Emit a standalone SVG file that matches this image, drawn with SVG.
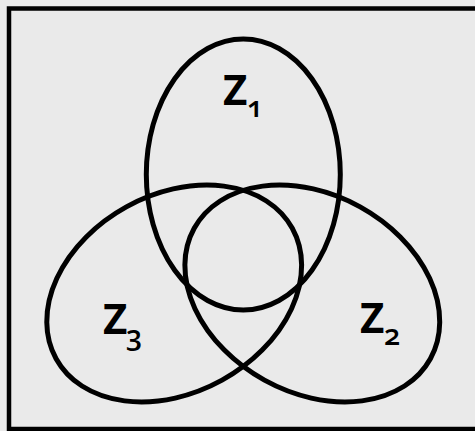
<svg xmlns="http://www.w3.org/2000/svg" width="475" height="431" viewBox="0 0 475 431">
<style>
.set{fill:none;stroke:#000;stroke-width:5}
.lbl{font-family:"Open Sans","Liberation Sans",sans-serif;font-weight:700;fill:#000}
.z{font-size:42px}
.s{font-size:29px;font-weight:600;font-variant-numeric:oldstyle-nums;font-feature-settings:"onum" 1}
</style>
<rect x="0" y="0" width="475" height="431" fill="#eaeaea"/>
<rect x="9" y="8.5" width="480" height="420.5" fill="none" stroke="#000" stroke-width="4.5"/>
<g id="connectors"></g>
<g id="z1">
<ellipse class="set" cx="243.3" cy="174.5" rx="97" ry="135.5"/>
<text class="lbl z" x="223" y="105">Z</text>
<text class="lbl s" x="247" y="117">1</text>
</g>
<g id="z2">
<ellipse class="set" cx="0" cy="0" rx="134.9" ry="99" transform="translate(312.3 293.5) rotate(28.9)"/>
<text class="lbl z" x="360" y="333">Z</text>
<text class="lbl s" x="384" y="345">2</text>
</g>
<g id="z3">
<ellipse class="set" cx="0" cy="0" rx="134.9" ry="99" transform="translate(174.2 293.5) rotate(-28.9)"/>
<text class="lbl z" x="103" y="334">Z</text>
<text class="lbl s" x="126" y="346">3</text>
</g>
</svg>
